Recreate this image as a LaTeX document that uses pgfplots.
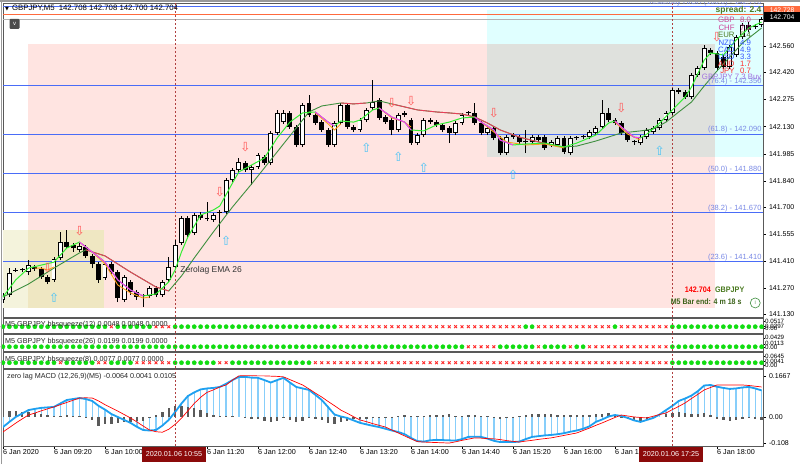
\documentclass[border=0pt]{standalone}
\usepackage{fontspec}
\setmainfont{Liberation Sans}
\newfontfamily\symfont{DejaVu Sans}
\usepackage{graphicx}
\usepackage{pgfplots}
\usepackage{pgfplotstable}
\pgfplotsset{compat=1.18}

\definecolor{pinkbg}{HTML}{FFE4E1}
\definecolor{cyanbg}{HTML}{E0FFFF}
\definecolor{graybg}{HTML}{DFE1DD}
\definecolor{yelbg}{HTML}{F4F3DC}
\definecolor{yelpink}{HTML}{EFE7C2}
\definecolor{fibblue}{HTML}{4A6CF7}
\definecolor{fibtext}{HTML}{7A8AE6}
\definecolor{askred}{HTML}{FF6A3D}
\definecolor{dashred}{HTML}{B04040}
\definecolor{fastgreen}{HTML}{33EE33}
\definecolor{slowgreen}{HTML}{3F8F3F}
\definecolor{slowred}{HTML}{E8405A}
\definecolor{fastmag}{HTML}{FF33FF}
\definecolor{maorange}{HTML}{FFA020}
\definecolor{arrowred}{HTML}{FF5A5A}
\definecolor{arrowcyan}{HTML}{4CC3F5}
\definecolor{sqgreen}{HTML}{11DD11}
\definecolor{sqred}{HTML}{FF2A2A}
\definecolor{macdblue}{HTML}{1EA0F0}
\definecolor{macdlight}{HTML}{87CEFA}
\definecolor{macdgray}{HTML}{5A5A5A}
\definecolor{boxred}{HTML}{8B0A0A}
\definecolor{curpink}{HTML}{CC4499}
\definecolor{curgreen}{HTML}{4A7A20}
\definecolor{curblue}{HTML}{3355FF}
\definecolor{curred}{HTML}{FF3030}
\definecolor{curlilac}{HTML}{A070E0}

\newcommand{\fs}[1]{\fontsize{#1}{#1}\selectfont}

% GBPJPY M5 candles, bar 0 = 08:40
\pgfplotstableread{
i o h l c
0 141.205 141.242 141.189 141.231
1 141.231 141.375 141.221 141.349
2 141.360 141.375 141.354 141.365
3 141.365 141.375 141.354 141.367
4 141.354 141.418 141.338 141.391
5 141.381 141.391 141.360 141.370
6 141.370 141.381 141.317 141.328
7 141.328 141.338 141.290 141.301
8 141.312 141.434 141.301 141.423
9 141.429 141.567 141.418 141.514
10 141.514 141.578 141.477 141.488
11 141.498 141.509 141.461 141.482
12 141.472 141.509 141.461 141.493
13 141.488 141.498 141.429 141.440
14 141.440 141.450 141.375 141.397
15 141.397 141.407 141.296 141.312
16 141.322 141.407 141.312 141.397
17 141.397 141.407 141.338 141.354
18 141.354 141.365 141.194 141.215
19 141.205 141.338 141.194 141.328
20 141.301 141.312 141.231 141.248
21 141.248 141.258 141.205 141.221
22 141.226 141.237 141.168 141.228
23 141.226 141.280 141.215 141.269
24 141.269 141.280 141.221 141.231
25 141.231 141.312 141.221 141.301
26 141.312 141.434 141.301 141.381
27 141.381 141.525 141.370 141.498
28 141.509 141.653 141.498 141.643
29 141.643 141.653 141.541 141.552
30 141.562 141.669 141.552 141.658
31 141.658 141.674 141.632 141.643
32 141.637 141.728 141.626 141.639
33 141.632 141.669 141.621 141.658
34 141.669 141.685 141.541 141.676
35 141.674 141.856 141.664 141.845
36 141.845 141.909 141.834 141.898
37 141.898 141.962 141.888 141.941
38 141.936 141.946 141.888 141.898
39 141.898 141.925 141.818 141.914
40 141.914 141.989 141.904 141.978
41 141.968 141.978 141.925 141.936
42 141.936 142.107 141.925 142.096
43 142.096 142.219 142.085 142.203
44 142.154 142.219 142.144 142.203
45 142.203 142.213 142.117 142.128
46 142.128 142.139 142.021 142.032
47 142.032 142.256 142.021 142.245
48 142.256 142.299 142.181 142.192
49 142.192 142.203 142.139 142.149
50 142.154 142.165 142.101 142.112
51 142.112 142.123 142.021 142.032
52 142.032 142.160 142.021 142.149
53 142.149 142.256 142.139 142.245
54 142.245 142.256 142.117 142.128
55 142.128 142.139 142.101 142.112
56 142.112 142.176 142.101 142.165
57 142.165 142.229 142.154 142.219
58 142.229 142.379 142.219 142.261
59 142.272 142.283 142.165 142.176
60 142.181 142.192 142.144 142.154
61 142.165 142.176 142.085 142.112
62 142.112 142.203 142.101 142.192
63 142.192 142.213 142.181 142.203
64 142.165 142.176 142.032 142.042
65 142.042 142.096 142.032 142.085
66 142.085 142.176 142.074 142.165
67 142.154 142.176 142.144 142.165
68 142.154 142.165 142.128 142.139
69 142.139 142.149 142.101 142.112
70 142.123 142.133 142.042 142.096
71 142.096 142.160 142.085 142.149
72 142.149 142.203 142.139 142.192
73 142.203 142.213 142.192 142.205
74 142.203 142.256 142.139 142.149
75 142.149 142.160 142.085 142.096
76 142.096 142.133 142.085 142.123
77 142.123 142.133 142.058 142.069
78 142.069 142.080 141.978 141.989
79 141.989 142.085 141.978 142.074
80 142.074 142.096 142.064 142.085
81 142.074 142.085 142.037 142.048
82 142.048 142.112 141.989 142.050
83 142.048 142.085 142.037 142.074
84 142.074 142.085 142.048 142.058
85 142.074 142.085 142.005 142.016
86 142.032 142.058 142.021 142.048
87 142.032 142.080 142.021 142.069
88 142.069 142.080 141.984 141.994
89 141.989 142.080 141.978 142.069
90 142.069 142.080 142.058 142.071
91 142.074 142.085 142.064 142.076
92 142.074 142.112 142.064 142.101
93 142.096 142.133 142.085 142.123
94 142.128 142.272 142.117 142.203
95 142.203 142.229 142.154 142.165
96 142.165 142.176 142.139 142.149
97 142.149 142.160 142.085 142.096
98 142.096 142.107 142.048 142.058
99 142.048 142.058 142.032 142.050
100 142.042 142.085 142.032 142.074
101 142.074 142.123 142.064 142.112
102 142.101 142.133 142.090 142.123
103 142.123 142.176 142.112 142.165
104 142.165 142.213 142.154 142.203
105 142.203 142.336 142.192 142.325
106 142.325 142.336 142.304 142.315
107 142.315 142.325 142.277 142.288
108 142.288 142.416 142.277 142.405
109 142.405 142.453 142.395 142.443
110 142.443 142.565 142.432 142.549
111 142.539 142.549 142.512 142.523
112 142.523 142.533 142.432 142.443
113 142.501 142.512 142.437 142.448
114 142.448 142.565 142.437 142.555
115 142.512 142.619 142.501 142.608
116 142.608 142.683 142.597 142.672
117 142.672 142.688 142.635 142.645
118 142.661 142.677 142.651 142.663
119 142.672 142.715 142.661 142.704
}\candles

\pgfplotstableread{
i v
0 141.221
2 141.312
4 141.375
6 141.391
8 141.407
10 141.482
12 141.514
14 141.461
16 141.407
18 141.312
20 141.258
22 141.226
24 141.237
26 141.301
27 141.365
28 141.461
29 141.541
31 141.658
33 141.685
34 141.706
36 141.829
37 141.888
39 141.925
41 141.962
43 142.069
45 142.154
47 142.203
49 142.208
51 142.154
52 142.133
53 142.160
55 142.154
56 142.165
58 142.219
59 142.229
61 142.181
63 142.154
64 142.112
66 142.107
68 142.139
70 142.154
72 142.176
74 142.181
75 142.154
77 142.112
78 142.058
80 142.032
82 142.037
85 142.042
88 142.021
90 142.042
93 142.085
95 142.149
96 142.160
97 142.128
99 142.074
100 142.069
101 142.090
103 142.149
105 142.219
107 142.288
108 142.341
110 142.485
111 142.523
113 142.512
115 142.592
117 142.656
119 142.688
}\fastma

\pgfplotstableread{
i v
0 141.221
4 141.290
8 141.375
12 141.456
13 141.472
16 141.440
20 141.354
24 141.274
26 141.253
28 141.333
30 141.429
33 141.568
36 141.701
39 141.824
42 141.952
45 142.080
48 142.208
50 142.240
53 142.256
55 142.251
57 142.256
59 142.267
61 142.251
63 142.235
65 142.219
68 142.208
70 142.203
72 142.197
74 142.181
76 142.149
78 142.112
81 142.074
84 142.048
86 142.032
88 142.021
90 142.026
93 142.053
97 142.096
100 142.107
102 142.117
104 142.154
106 142.208
108 142.261
110 142.347
112 142.427
114 142.501
116 142.576
119 142.656
}\slowma

% zero lag MACD: main, signal, difference
\pgfplotstableread{
i m s d
0 -0.041 -0.061 0.020
1 -0.020 -0.043 0.025
2 0.000 -0.025 0.025
3 0.014 -0.008 0.022
4 0.028 0.008 0.020
5 0.033 0.016 0.017
6 0.037 0.025 0.012
7 0.039 0.033 0.008
8 0.041 0.041 0.003
9 0.055 0.050 0.005
10 0.069 0.059 0.008
11 0.073 0.068 0.005
12 0.077 0.077 0.002
13 0.073 0.078 -0.005
14 0.065 0.077 -0.012
15 0.045 0.065 -0.035
16 0.030 0.050 -0.030
17 0.012 0.037 -0.030
18 0.000 0.024 -0.025
19 -0.012 0.010 -0.022
20 -0.024 -0.004 -0.020
21 -0.040 -0.020 -0.018
22 -0.053 -0.037 -0.015
23 -0.055 -0.053 -0.005
24 -0.053 -0.060 0.008
25 -0.035 -0.062 0.020
26 -0.012 -0.050 0.035
27 0.020 -0.030 0.045
28 0.055 -0.005 0.045
29 0.085 0.025 0.040
30 0.100 0.055 0.035
31 0.112 0.080 0.030
32 0.116 0.100 0.015
33 0.118 0.110 0.008
34 0.122 0.122 0.002
35 0.135 0.130 0.005
36 0.150 0.150 0.004
37 0.163 0.167 0.000
38 0.163 0.168 -0.004
39 0.160 0.168 -0.007
40 0.159 0.167 -0.008
41 0.150 0.167 -0.015
42 0.140 0.166 -0.022
43 0.150 0.165 -0.015
44 0.159 0.163 -0.005
45 0.140 0.152 -0.012
46 0.122 0.141 -0.020
47 0.116 0.130 -0.018
48 0.110 0.114 -0.006
49 0.090 0.097 -0.008
50 0.069 0.081 -0.012
51 0.040 0.063 -0.023
52 0.010 0.046 -0.030
53 0.002 0.028 -0.020
54 -0.004 0.015 -0.015
55 -0.014 0.001 -0.010
56 -0.024 -0.012 -0.010
57 -0.030 -0.019 -0.008
58 -0.036 -0.027 -0.006
59 -0.041 -0.034 -0.005
60 -0.048 -0.041 -0.004
61 -0.055 -0.053 -0.002
62 -0.061 -0.065 0.004
63 -0.070 -0.077 0.008
64 -0.085 -0.089 0.004
65 -0.098 -0.100 0.003
66 -0.100 -0.102 0.005
67 -0.095 -0.103 0.008
68 -0.093 -0.104 0.010
69 -0.094 -0.105 0.010
70 -0.095 -0.106 0.011
71 -0.096 -0.101 0.005
72 -0.090 -0.095 0.005
73 -0.081 -0.090 0.009
74 -0.080 -0.085 0.006
75 -0.081 -0.086 0.005
76 -0.088 -0.088 0.002
77 -0.097 -0.089 -0.006
78 -0.102 -0.092 -0.008
79 -0.102 -0.096 -0.004
80 -0.102 -0.099 -0.002
81 -0.100 -0.102 0.002
82 -0.090 -0.098 0.008
83 -0.081 -0.095 0.014
84 -0.078 -0.091 0.013
85 -0.075 -0.088 0.013
86 -0.073 -0.085 0.012
87 -0.070 -0.080 0.010
88 -0.066 -0.075 0.009
89 -0.060 -0.070 0.010
90 -0.055 -0.065 0.010
91 -0.048 -0.055 0.008
92 -0.038 -0.045 0.008
93 -0.020 -0.034 0.014
94 -0.010 -0.024 0.014
95 0.002 -0.013 0.015
96 0.008 -0.002 0.010
97 0.004 0.008 -0.004
98 -0.004 0.004 -0.008
99 -0.014 0.000 -0.014
100 -0.020 -0.002 -0.018
101 -0.012 -0.004 -0.008
102 -0.004 0.003 -0.006
103 0.010 0.010 0.000
104 0.028 0.016 0.012
105 0.045 0.030 0.015
106 0.065 0.043 0.020
107 0.075 0.057 0.018
108 0.087 0.075 0.012
109 0.105 0.092 0.013
110 0.128 0.110 0.018
111 0.130 0.120 0.010
112 0.123 0.130 -0.007
113 0.118 0.130 -0.012
114 0.114 0.130 -0.016
115 0.116 0.130 -0.014
116 0.120 0.130 -0.010
117 0.122 0.128 -0.006
118 0.116 0.125 -0.009
119 0.108 0.122 -0.014
}\macd

% bbsqueeze states: 1 = dot (green), 0 = cross (red)
\pgfplotstableread{
i q1 q2 q3
0 1 1 1
1 1 1 1
2 1 1 1
3 1 1 1
4 1 1 1
5 1 1 1
6 1 1 1
7 1 1 1
8 1 1 1
9 1 1 0
10 1 1 1
11 1 1 1
12 1 1 1
13 1 1 1
14 1 1 1
15 1 1 0
16 1 1 0
17 0 1 1
18 1 1 1
19 1 1 1
20 1 1 1
21 1 1 0
22 1 1 0
23 1 1 0
24 0 1 0
25 0 1 0
26 0 1 0
27 1 1 1
28 1 1 1
29 1 1 1
30 1 1 1
31 1 1 1
32 1 1 1
33 1 1 1
34 1 1 0
35 1 1 0
36 1 1 1
37 1 1 1
38 1 1 1
39 1 1 1
40 1 1 1
41 1 1 1
42 1 1 1
43 1 1 1
44 1 1 1
45 1 1 1
46 1 1 1
47 1 1 1
48 1 1 1
49 1 1 0
50 1 1 0
51 1 1 0
52 1 1 0
53 0 1 0
54 0 1 0
55 0 1 0
56 0 1 0
57 0 1 0
58 0 1 0
59 0 1 0
60 0 1 0
61 0 1 0
62 0 1 0
63 0 1 0
64 0 1 0
65 0 1 0
66 0 1 0
67 0 1 0
68 0 1 0
69 0 1 0
70 0 1 0
71 0 1 0
72 0 1 0
73 0 0 0
74 0 0 0
75 0 0 0
76 0 0 0
77 0 0 0
78 0 1 0
79 0 1 0
80 0 1 0
81 0 1 0
82 1 1 0
83 1 1 0
84 0 0 0
85 0 1 0
86 0 1 0
87 0 1 0
88 0 1 0
89 0 0 0
90 0 1 0
91 0 1 0
92 0 0 0
93 0 0 0
94 0 0 0
95 0 0 0
96 1 0 0
97 0 0 0
98 0 0 0
99 0 0 0
100 0 0 0
101 0 0 0
102 0 0 0
103 0 0 0
104 0 0 0
105 1 1 1
106 1 1 1
107 1 1 1
108 1 1 1
109 1 1 1
110 1 1 1
111 1 1 1
112 1 1 1
113 1 1 1
114 1 1 1
115 1 1 1
116 1 1 1
117 1 1 1
118 1 1 1
119 1 1 1
}\squeeze

\pgfplotsset{
  mtpane/.style={
    anchor=south west, scale only axis, width=760pt,
    xmin=0, xmax=119.22,
    axis line style={draw=black!65, line width=0.8pt},
    xtick=\empty,
    ytick pos=right, yticklabel pos=right,
    tick align=outside, major tick length=2.5pt,
    tick style={draw=black, line width=0.4pt},
    tick label style={font=\fs{7}, text=black},
    /pgf/number format/assume math mode=true,
    clip mode=individual,
  },
  dashline/.style={draw=dashred, line width=0.8pt, dash pattern=on 2pt off 2pt, forget plot},
  sqdot/.style={only marks, mark=*, mark size=2.1pt, color=sqgreen},
  sqx/.style={only marks, mark=x, mark size=2pt, color=sqred, line width=0.9pt},
  sqlabels/.style={yticklabel style={font=\fs{6.2}, inner sep=0.5pt}, major tick length=1.5pt},
}

\begin{document}
\begin{tikzpicture}
\fill[white] (0,0) rectangle (800pt,464pt);

% ---------------- price window ----------------
\begin{axis}[mtpane, at={(3pt,147pt)}, height=314pt,
  ymin=141.114, ymax=142.7895,
  ytick={141.130,141.270,141.410,141.555,141.700,141.840,141.985,142.130,142.275,142.420,142.560},
  yticklabel style={/pgf/number format/.cd, fixed, fixed zerofill, precision=3}]

% rectangles
\addplot[fill=yelbg, draw=none] coordinates {(0,141.578) (15.84,141.578) (15.84,141.162) (0,141.162)} -- cycle;
\addplot[fill=pinkbg, draw=none] coordinates {(3.92,142.571) (111.7,142.571) (111.7,141.162) (3.92,141.162)} -- cycle;
\addplot[fill=yelpink, draw=none] coordinates {(3.92,141.578) (15.84,141.578) (15.84,141.162) (3.92,141.162)} -- cycle;
\addplot[fill=cyanbg, draw=none] coordinates {(75.9,142.752) (119.22,142.752) (119.22,141.968) (75.9,141.968)} -- cycle;
\addplot[fill=graybg, draw=none] coordinates {(75.9,142.571) (111.7,142.571) (111.7,141.968) (75.9,141.968)} -- cycle;

% fibonacci levels, ask and bid
\addplot[fibblue, line width=0.8pt] coordinates {(0,142.770) (119.22,142.770)};
\addplot[fibblue, line width=0.8pt] coordinates {(0,142.350) (119.22,142.350)};
\addplot[fibblue, line width=0.8pt] coordinates {(0,142.090) (119.22,142.090)};
\addplot[fibblue, line width=0.8pt] coordinates {(0,141.880) (119.22,141.880)};
\addplot[fibblue, line width=0.8pt] coordinates {(0,141.670) (119.22,141.670)};
\addplot[fibblue, line width=0.8pt] coordinates {(0,141.410) (119.22,141.410)};
\addplot[askred, line width=0.9pt] coordinates {(0,142.728) (119.22,142.728)};
\addplot[black!30, line width=0.6pt] coordinates {(0,142.704) (119.22,142.704)};

\addplot[dashline] coordinates {(27,141.114) (27,142.7895)};
\addplot[dashline] coordinates {(105,141.114) (105,142.7895)};

% candles: wick, body, hollow inside for up bars
\pgfplotsinvokeforeach{0,...,119}{%
  \pgfplotstablegetelem{#1}{o}\of{\candles}\edef\cO{\pgfplotsretval}%
  \pgfplotstablegetelem{#1}{h}\of{\candles}\edef\cH{\pgfplotsretval}%
  \pgfplotstablegetelem{#1}{l}\of{\candles}\edef\cL{\pgfplotsretval}%
  \pgfplotstablegetelem{#1}{c}\of{\candles}\edef\cC{\pgfplotsretval}%
  \pgfmathsetmacro\bH{max(abs(\cC-\cO),0.0056)/2}%
  \pgfmathsetmacro\bA{(\cO+\cC)/2-\bH}%
  \pgfmathsetmacro\bB{(\cO+\cC)/2+\bH}%
  \edef\cmd{\noexpand\addplot[black, line width=0.8pt] coordinates {(#1,\cL) (#1,\cH)};%
    \noexpand\addplot[black, line width=4.8pt] coordinates {(#1,\bA) (#1,\bB)};}%
  \cmd
  \pgfmathtruncatemacro\isbull{\cC-\cO>0.012}%
  \ifnum\isbull=1
    \pgfmathsetmacro\wA{\cO+0.0045}\pgfmathsetmacro\wB{\cC-0.0045}%
    \edef\cmd{\noexpand\addplot[white, line width=3pt] coordinates {(#1,\wA) (#1,\wB)};}%
    \cmd
  \fi
}

% moving averages
\addplot[slowgreen, line width=0.9pt] table[x=i, y=v] {\slowma};
\addplot[slowred, line width=0.9pt, restrict x to domain=13:26] table[x=i, y=v] {\slowma};
\addplot[slowred, line width=0.9pt, restrict x to domain=53:57] table[x=i, y=v] {\slowma};
\addplot[slowred, line width=0.9pt, restrict x to domain=61:88] table[x=i, y=v] {\slowma};
\addplot[maorange, line width=0.9pt] coordinates {(5,141.375) (6,141.375) (7,141.365) (8,141.381)};
\addplot[maorange, line width=0.9pt] coordinates {(14,141.461) (16,141.397) (18,141.285) (20,141.242) (22,141.215) (23,141.221)};
\addplot[maorange, line width=0.9pt] coordinates {(49,142.203) (51,142.144) (52,142.112) (53,142.144)};
\addplot[maorange, line width=0.9pt] coordinates {(59,142.229) (61,142.176) (63,142.154) (64,142.128)};
\addplot[maorange, line width=0.9pt] coordinates {(75,142.154) (77,142.101) (79,142.048) (82,142.032) (85,142.037) (88,142.016)};
\addplot[maorange, line width=0.9pt] coordinates {(96,142.154) (98,142.090) (100,142.058)};
\addplot[fastgreen, line width=1pt] table[x=i, y=v] {\fastma};
\addplot[fastmag, line width=1pt, restrict x to domain=12:22] table[x=i, y=v] {\fastma};
\addplot[fastmag, line width=1pt, restrict x to domain=49:52] table[x=i, y=v] {\fastma};
\addplot[fastmag, line width=1pt, restrict x to domain=59:64] table[x=i, y=v] {\fastma};
\addplot[fastmag, line width=1pt, restrict x to domain=74:80] table[x=i, y=v] {\fastma};
\addplot[fastmag, line width=1pt, restrict x to domain=96:100] table[x=i, y=v] {\fastma};

% signal arrows
\addplot[only marks, mark=text, text mark={\symfont ⇩}, text mark as node=true,
  text mark style={font=\fs{12.5}, text=arrowred, inner sep=0pt, anchor=center}]
  coordinates {(7,141.375) (12,141.573) (34,141.781) (38,142.021) (61,142.256) (64,142.267) (77,142.203) (97,142.229) (112,142.608)};
\addplot[only marks, mark=text, text mark={\symfont ⇧}, text mark as node=true,
  text mark style={font=\fs{12.5}, text=arrowcyan, inner sep=0pt, anchor=center}]
  coordinates {(8,141.215) (35,141.520) (57,142.016) (62,141.968) (66,141.909) (80,141.872) (103,142.000)};

% labels
\node[anchor=south east, text=fibtext, inner sep=0.6pt, font=\fs{7.5}] at (axis cs:119.1,142.770) {Yesterday HIGH (100.0) - 142.770};
\node[anchor=south east, text=fibtext, inner sep=0.6pt, font=\fs{7.5}] at (axis cs:119.1,142.350) {(76.4) - 142.350};
\node[anchor=south east, text=fibtext, inner sep=0.6pt, font=\fs{7.5}] at (axis cs:119.1,142.090) {(61.8) - 142.090};
\node[anchor=south east, text=fibtext, inner sep=0.6pt, font=\fs{7.5}] at (axis cs:119.1,141.880) {(50.0) - 141.880};
\node[anchor=south east, text=fibtext, inner sep=0.6pt, font=\fs{7.5}] at (axis cs:119.1,141.670) {(38.2) - 141.670};
\node[anchor=south east, text=fibtext, inner sep=0.6pt, font=\fs{7.5}] at (axis cs:119.1,141.410) {(23.6) - 141.410};

\node[anchor=east, text=curgreen, inner sep=0pt, font=\fs{8.5}\bfseries] at (axis cs:119.0,142.752) {spread: 2.4};
\node[anchor=east, text=curpink, inner sep=0pt, font=\fs{7.8}] at (axis cs:114.8,142.699) {GBP};
\node[anchor=west, text=curpink, inner sep=0pt, font=\fs{7.8}] at (axis cs:115.6,142.699) {8.0};
\node[anchor=east, text=curpink, inner sep=0pt, font=\fs{7.8}] at (axis cs:114.8,142.656) {CHF};
\node[anchor=west, text=curpink, inner sep=0pt, font=\fs{7.8}] at (axis cs:115.6,142.656) {7.0};
\node[anchor=east, text=curgreen, inner sep=0pt, font=\fs{7.8}] at (axis cs:114.8,142.619) {EUR};
\node[anchor=west, text=curgreen, inner sep=0pt, font=\fs{7.8}] at (axis cs:115.6,142.619) {5.4};
\node[anchor=east, text=curblue, inner sep=0pt, font=\fs{7.8}] at (axis cs:114.8,142.576) {NZD};
\node[anchor=west, text=curblue, inner sep=0pt, font=\fs{7.8}] at (axis cs:115.6,142.576) {4.9};
\node[anchor=east, text=curblue, inner sep=0pt, font=\fs{7.8}] at (axis cs:114.8,142.539) {CAD};
\node[anchor=west, text=curblue, inner sep=0pt, font=\fs{7.8}] at (axis cs:115.6,142.539) {4.9};
\node[anchor=east, text=curblue, inner sep=0pt, font=\fs{7.8}] at (axis cs:114.8,142.501) {USD};
\node[anchor=west, text=curblue, inner sep=0pt, font=\fs{7.8}] at (axis cs:115.6,142.501) {3.3};
\node[anchor=east, text=curred, inner sep=0pt, font=\fs{7.8}] at (axis cs:114.8,142.464) {AUD};
\node[anchor=west, text=curred, inner sep=0pt, font=\fs{7.8}] at (axis cs:115.6,142.464) {1.7};
\node[anchor=east, text=curred, inner sep=0pt, font=\fs{7.8}] at (axis cs:114.8,142.427) {JPY};
\node[anchor=west, text=curred, inner sep=0pt, font=\fs{7.8}] at (axis cs:115.6,142.427) {0.7};
\node[text=curlilac, inner sep=0pt, font=\fs{7.8}] at (axis cs:114.3,142.389) {GBPJPY 7.3 Buy};

\node[anchor=west, text=black!80, inner sep=0pt, font=\fs{8.5}] at (axis cs:27.8,141.365) {Zerolag EMA 26};
\node[text=red, inner sep=0pt, font=\fs{8}\bfseries] at (axis cs:109.0,141.259) {\scalebox{0.9}[1]{142.704}};
\node[text=curgreen, inner sep=0pt, font=\fs{8}\bfseries] at (axis cs:114.0,141.259) {\scalebox{0.9}[1]{GBPJPY}};
\node[text=curgreen!80!black, inner sep=0pt, font=\fs{8}\bfseries] at (axis cs:110.3,141.194) {\scalebox{0.88}[1]{M5 Bar end: 4 m 18 s}};
\node[circle, draw=slowgreen, fill=white, line width=0.6pt, minimum size=10pt, inner sep=0pt, font=\fs{6}, text=slowgreen] at (axis cs:118.0,141.189) {$\scriptstyle\mathsf{l}$};
\end{axis}

% ---------------- bbsqueeze(12) ----------------
\begin{axis}[mtpane, sqlabels, at={(3pt,131pt)}, height=15pt, ymin=0, ymax=1,
  ytick={0.3,0.45,0.8}, yticklabels={0.00,0.0297,0.0517}]
\addplot[sqdot, restrict expr to domain={\thisrow{q1}}{0.5:1.5}] table[x=i, y expr=0.42] {\squeeze};
\addplot[sqx, restrict expr to domain={\thisrow{q1}}{-0.5:0.5}] table[x=i, y expr=0.42] {\squeeze};
\addplot[dashline] coordinates {(27,0) (27,1)};
\addplot[dashline] coordinates {(105,0) (105,1)};
\end{axis}

% ---------------- bbsqueeze(26) ----------------
\begin{axis}[mtpane, sqlabels, at={(3pt,113pt)}, height=17pt, ymin=0, ymax=1,
  ytick={0.2,0.42,0.78}, yticklabels={0.00,0.0113,0.0429}]
\addplot[sqdot, restrict expr to domain={\thisrow{q2}}{0.5:1.5}] table[x=i, y expr=0.25] {\squeeze};
\addplot[sqx, restrict expr to domain={\thisrow{q2}}{-0.5:0.5}] table[x=i, y expr=0.25] {\squeeze};
\addplot[dashline] coordinates {(27,0) (27,1)};
\addplot[dashline] coordinates {(105,0) (105,1)};
\end{axis}

% ---------------- bbsqueeze(8) ----------------
\begin{axis}[mtpane, sqlabels, at={(3pt,96pt)}, height=16pt, ymin=0, ymax=1,
  ytick={0.15,0.4,0.75}, yticklabels={0.00,0.0041,0.0645}]
\addplot[sqdot, restrict expr to domain={\thisrow{q3}}{0.5:1.5}] table[x=i, y expr=0.33] {\squeeze};
\addplot[sqx, restrict expr to domain={\thisrow{q3}}{-0.5:0.5}] table[x=i, y expr=0.33] {\squeeze};
\addplot[dashline] coordinates {(27,0) (27,1)};
\addplot[dashline] coordinates {(105,0) (105,1)};
\end{axis}

% ---------------- zero lag MACD ----------------
\begin{axis}[mtpane, at={(3pt,18pt)}, height=77pt, ymin=-0.118, ymax=0.195,
  ytick={-0.108,0,0.1667}, yticklabels={-0.108,0.00,0.1667},
  xtick={0,8,16,32,40,48,56,64,72,80,88,96,112},
  xticklabels={6 Jan 2020,6 Jan 09:20,6 Jan 10:00,6 Jan 11:20,6 Jan 12:00,6 Jan 12:40,6 Jan 13:20,6 Jan 14:00,6 Jan 14:40,6 Jan 15:20,6 Jan 16:00,6 Jan 16:40,6 Jan 18:00},
  xtick pos=left, xticklabel style={anchor=north west, inner sep=1pt, xshift=-1pt, font=\fs{7.2}}]
\addplot[ycomb, macdlight, line width=1.4pt] table[x=i, y=m] {\macd};
\addplot[ycomb, macdgray, line width=2.4pt] table[x=i, y=d] {\macd};
\addplot[macdblue, line width=1.8pt] table[x=i, y=m] {\macd};
\addplot[red, line width=0.7pt] table[x=i, y=s] {\macd};
\addplot[dashline] coordinates {(27,-0.118) (27,0.195)};
\addplot[dashline] coordinates {(105,-0.118) (105,0.195)};
\end{axis}

% ---------------- window texts ----------------
\node[anchor=west, inner sep=0pt, font=\fs{7.8}] at (5pt,456pt) {{\symfont\fs{5}▼}\hspace{3pt}GBPJPY,M5\hspace{4pt}142.708 142.708 142.700 142.704};
\node[fill=black!70, rounded corners=1pt, text=white, minimum width=10pt, minimum height=10pt, inner sep=0pt, font=\fs{6}] at (14.5pt,440pt) {v};
\node[anchor=west, inner sep=0pt, font=\fs{7.2}, text=black!85] at (5pt,139pt) {M5 GBPJPY bbsqueeze(12) 0.0048 0.0048 0.0000};
\node[anchor=west, inner sep=0pt, font=\fs{7.2}, text=black!85] at (5pt,122pt) {M5 GBPJPY bbsqueeze(26) 0.0199 0.0199 0.0000};
\node[anchor=west, inner sep=0pt, font=\fs{7.2}, text=black!85] at (5pt,104pt) {M5 GBPJPY bbsqueeze(8) 0.0077 0.0077 0.0000};
\node[anchor=west, inner sep=0pt, font=\fs{7.2}, text=black!85] at (7pt,87pt) {zero lag MACD (12,26,9)(M5) -0.0064 0.0041 0.0105};

\node[anchor=west, fill=askred, text=white, inner sep=0pt, minimum width=36pt, minimum height=8pt, font=\fs{6.8}] at (764pt,454pt) {142.728};
\node[anchor=west, fill=black, text=white, inner sep=0pt, minimum width=36pt, minimum height=10pt, font=\fs{6.8}] at (764pt,447pt) {142.704};

\node[fill=boxred, text=white, inner xsep=3.5pt, minimum height=15pt, font=\fs{7.2}] at (174pt,9.5pt) {2020.01.06 10:55};
\node[fill=boxred, text=white, inner xsep=3.5pt, minimum height=15pt, font=\fs{7.2}] at (671pt,9.5pt) {2020.01.06 17:25};

\draw[black!40, line width=1.5pt] (0pt,463.2pt) -- (800pt,463.2pt);
\draw[black!40, line width=1pt] (1pt,0pt) -- (1pt,464pt);

\pgfresetboundingbox
\path[use as bounding box] (0pt,0pt) rectangle (800pt,464pt);
\end{tikzpicture}
\end{document}
